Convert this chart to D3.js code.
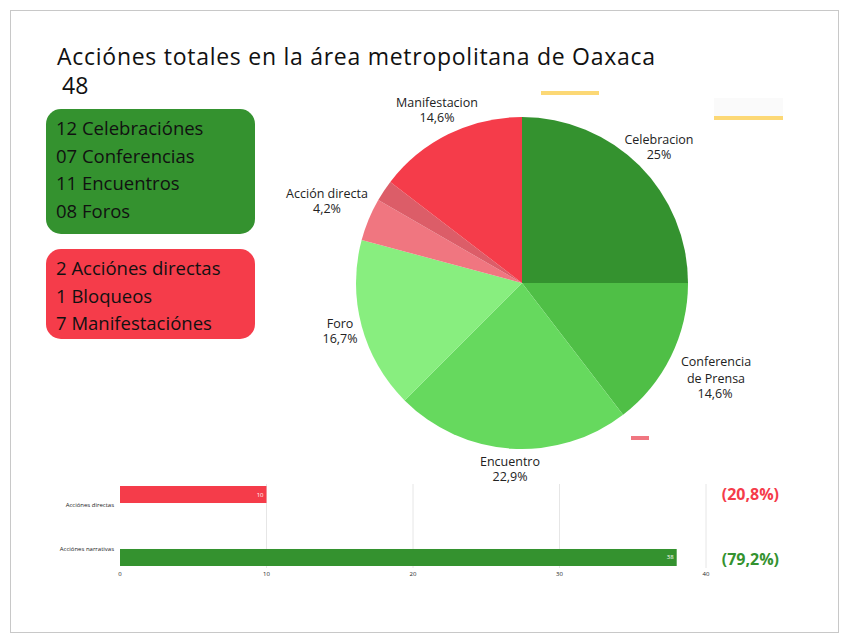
<!DOCTYPE html>
<html><head><meta charset="utf-8">
<script src="https://cdn.jsdelivr.net/npm/d3@7"></script>
<style>body{margin:0;background:#fff;font-family:"Open Sans",sans-serif}</style>
</head><body>
<script>
// data
const pieLabels = ["Celebracion", "Conferencia de Prensa", "Encuentro", "Foro", "Acción directa", "Bloqueo", "Manifestacion"];
const pieValues = [12, 7, 11, 8, 2, 1, 7];
const pieColors = ["#34922f", "#4fbf46", "#66d95e", "#88ee7f", "#f07680", "#dc5d68", "#f53c4a"];
const barCategories = ["Acciónes directas", "Acciónes narrativas"];
const barValues = [10, 38];
const barTicks = [0, 10, 20, 30, 40];
const greenList = ["12 Celebraciónes", "07 Conferencias", "11 Encuentros", "08 Foros"];
const redList = ["2 Acciónes directas", "1 Bloqueos", "7 Manifestaciónes"];

const w = 846, h = 639;
const svg = d3.select("body").append("svg").attr("width", w).attr("height", h);

svg.append("rect").attr("x", 10.5).attr("y", 10.5).attr("width", 828).attr("height", 622)
  .attr("fill", "#fff").attr("stroke", "#c8c8c8");

svg.append("text").attr("x", 57).attr("y", 65).attr("font-size", 23).attr("fill", "#111")
  .attr("textLength", 598).text("Acciónes totales en la área metropolitana de Oaxaca");
svg.append("text").attr("x", 62).attr("y", 94).attr("font-size", 23).attr("fill", "#111").text("48");

// boxes
function box(y, hh, color, lines) {
  svg.append("rect").attr("x", 46).attr("y", y).attr("width", 209).attr("height", hh)
    .attr("rx", 15).attr("fill", color);
  svg.selectAll(null).data(lines).enter().append("text")
    .attr("x", 56).attr("y", (d, i) => y + 26 + i * 27.5)
    .attr("font-size", 18.5).attr("fill", "#111").text(d => d);
}
box(109, 125, "#34922f", greenList);
box(249, 90, "#f53c4a", redList);

// decorations
svg.append("rect").attr("x", 541).attr("y", 91).attr("width", 58).attr("height", 4).attr("fill", "#fcd875");
svg.append("rect").attr("x", 714).attr("y", 98).attr("width", 69).attr("height", 18).attr("fill", "#fafafa");
svg.append("rect").attr("x", 714).attr("y", 116).attr("width", 69).attr("height", 4).attr("fill", "#fcd875");
svg.append("rect").attr("x", 631).attr("y", 436).attr("width", 18).attr("height", 4).attr("fill", "#f07680");

// pie
const cx = 522, cy = 283, r = 166;
const total = d3.sum(pieValues);
const pie = d3.pie().sort(null)(pieValues);
const arc = d3.arc().innerRadius(0).outerRadius(r);
const g = svg.append("g").attr("transform", `translate(${cx},${cy})`);
g.selectAll("path").data(pie).enter().append("path")
  .attr("d", arc).attr("fill", (d, i) => pieColors[i]);

const fmt = v => { const p = Math.round(v / total * 1000) / 10; return (p % 1 === 0 ? p.toFixed(0) : p.toFixed(1)).replace(".", ",") + "%"; };
const labelPos = [[659, 144], [716, 366], [510, 466], [340, 328], [327, 198], null, [437, 107]];
pie.forEach((d, i) => {
  if (!labelPos[i]) return;
  const [lx, ly] = labelPos[i];
  const words = i === 1 ? ["Conferencia", "de Prensa"] : [pieLabels[i]];
  const t = svg.append("text").attr("text-anchor", "middle").attr("font-size", 12.5).attr("fill", "#222");
  words.forEach((wd, j) => t.append("tspan").attr("x", lx).attr("y", ly + j * 17).text(wd));
  t.append("tspan").attr("x", i === 1 ? lx - 1 : lx).attr("y", ly + words.length * 17 - 2).text(fmt(pieValues[i]));
});

// bar chart
const x = d3.scaleLinear().domain([0, 40]).range([120, 706]);
const y = d3.scaleBand().domain(barCategories).range([486, 566]).paddingInner(0.73).paddingOuter(0);
svg.selectAll(".grid").data(barTicks.slice(1)).enter().append("line")
  .attr("x1", d => x(d)).attr("x2", d => x(d)).attr("y1", 484).attr("y2", 568)
  .attr("stroke", "#e6e6e6");
svg.selectAll(".bar").data(barValues).enter().append("rect")
  .attr("x", x(0)).attr("y", (d, i) => y(barCategories[i]))
  .attr("width", d => x(d) - x(0)).attr("height", y.bandwidth())
  .attr("fill", (d, i) => i ? "#34922f" : "#f53c4a");
svg.selectAll(".bv").data(barValues).enter().append("text")
  .attr("x", d => x(d) - 3).attr("y", (d, i) => y(barCategories[i]) + y.bandwidth() / 2 + 2)
  .attr("text-anchor", "end").attr("font-size", 6).attr("fill", "#fff").text(d => d);
svg.selectAll(".bc").data(barCategories).enter().append("text")
  .attr("x", 114).attr("y", (d, i) => y(d) + (i ? 2 : y.bandwidth() + 4))
  .attr("text-anchor", "end").attr("font-size", 6).attr("fill", "#222").text(d => d);
svg.selectAll(".tk").data(barTicks).enter().append("text")
  .attr("x", d => x(d)).attr("y", 576).attr("text-anchor", "middle")
  .attr("font-size", 6).attr("fill", "#222").text(d => d);
const pcts = barValues.map(v => "(" + fmt(v) + ")");
svg.selectAll(".pc").data(pcts).enter().append("text")
  .attr("x", 779).attr("y", (d, i) => i ? 565 : 500).attr("text-anchor", "end")
  .attr("font-size", 16).attr("font-weight", "bold")
  .attr("fill", (d, i) => i ? "#34922f" : "#f53c4a").text(d => d);
</script>
</body></html>
